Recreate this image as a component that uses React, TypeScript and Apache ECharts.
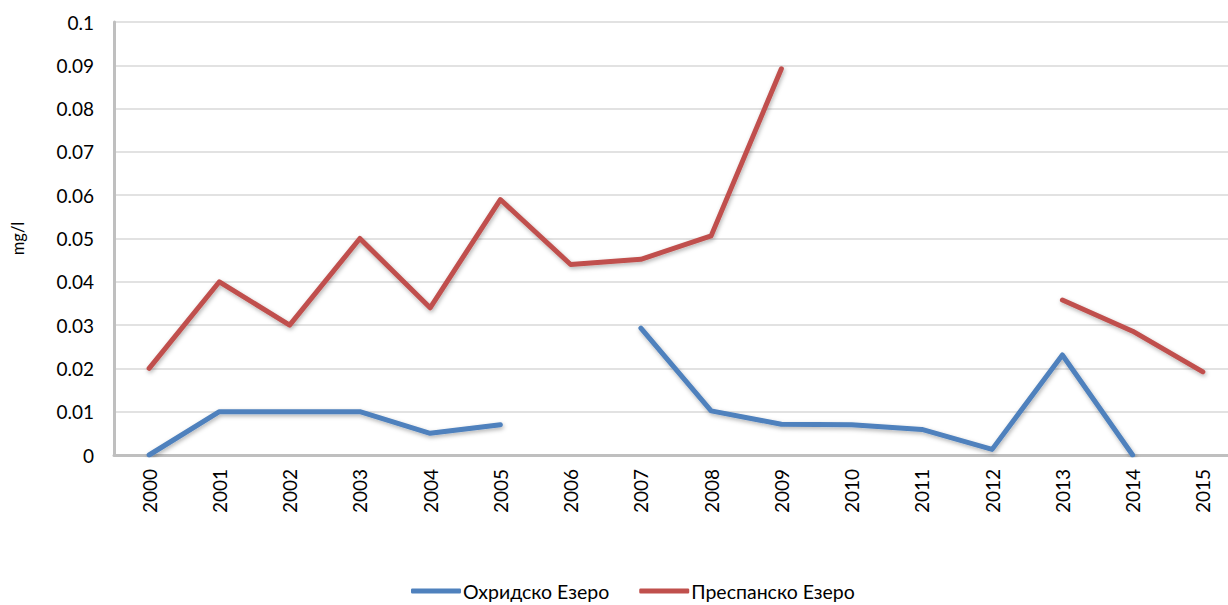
import React, { useEffect, useRef } from "react";
import * as echarts from "echarts";

const years = [
  "2000", "2001", "2002", "2003", "2004", "2005", "2006", "2007",
  "2008", "2009", "2010", "2011", "2012", "2013", "2014", "2015",
];

// Охридско Езеро, mg/l (null = no measurement)
const ohrid: (number | null)[] = [
  0, 0.01, 0.01, 0.01, 0.005, 0.007, null, 0.0293,
  0.0102, 0.0071, 0.007, 0.0059, 0.0013, 0.0231, 0, null,
];

// Преспанско Езеро, mg/l
const prespa: (number | null)[] = [
  0.02, 0.04, 0.03, 0.05, 0.034, 0.059, 0.044, 0.0452,
  0.0506, 0.0892, null, null, null, 0.0358, 0.0286, 0.0192,
];

const seriesNames = ["Охридско Езеро", "Преспанско Езеро"];
const colors = ["#4f81bd", "#c0504d"];

const FONT = "Lato, 'Open Sans', sans-serif";

export default function App() {
  const ref = useRef<HTMLDivElement>(null);

  useEffect(() => {
    if (!ref.current) return;
    const chart = echarts.init(ref.current, null, { renderer: "svg" });

    const lineSeries = (name: string, data: (number | null)[], color: string) => ({
      name,
      type: "line",
      data,
      symbol: "none",
      connectNulls: false,
      color,
      lineStyle: {
        color,
        width: 5,
        cap: "round",
        join: "round",
        shadowColor: "rgba(0,0,0,0.3)",
        shadowBlur: 4,
        shadowOffsetY: 2,
        shadowOffsetX: 1,
      },
    });

    chart.setOption({
      animation: false,
      backgroundColor: "#ffffff",
      textStyle: { fontFamily: FONT },
      grid: {
        left: 114,
        top: 22,
        width: 1124,
        height: 433,
        containLabel: false,
        outerBoundsMode: "none",
      },
      legend: {
        left: 406,
        top: 576,
        itemWidth: 50,
        itemHeight: 5,
        itemGap: 30,
        icon: "roundRect",
        textStyle: {
          fontFamily: FONT,
          fontSize: 19.5,
          color: "#000",
          padding: [0, 0, 0, -3],
        },
        data: seriesNames,
      },
      xAxis: {
        type: "category",
        data: years,
        boundaryGap: true,
        axisLine: { lineStyle: { color: "#bfbfbf", width: 3 } },
        axisTick: { show: false },
        axisLabel: {
          rotate: 90,
          margin: 14,
          fontFamily: FONT,
          fontSize: 19,
          color: "#000",
        },
        splitLine: { show: false },
      },
      yAxis: {
        type: "value",
        min: 0,
        max: 0.1,
        interval: 0.01,
        name: "mg/l",
        nameLocation: "middle",
        nameRotate: 90,
        nameGap: 88,
        nameTextStyle: { fontFamily: FONT, fontSize: 16.5, color: "#000" },
        axisLine: { show: true, lineStyle: { color: "#bfbfbf", width: 3 } },
        axisTick: { show: false },
        axisLabel: {
          margin: 20,
          fontFamily: FONT,
          fontSize: 19,
          color: "#000",
          formatter: (v: number) => String(+v.toFixed(2)),
        },
        splitLine: { lineStyle: { color: "#d9d9d9", width: 1.5 } },
      },
      series: [
        lineSeries(seriesNames[0], ohrid, colors[0]),
        lineSeries(seriesNames[1], prespa, colors[1]),
      ],
    });

    return () => chart.dispose();
  }, []);

  return (
    <div
      ref={ref}
      style={{ position: "absolute", left: 0, top: 0, width: 1228, height: 605 }}
    />
  );
}
